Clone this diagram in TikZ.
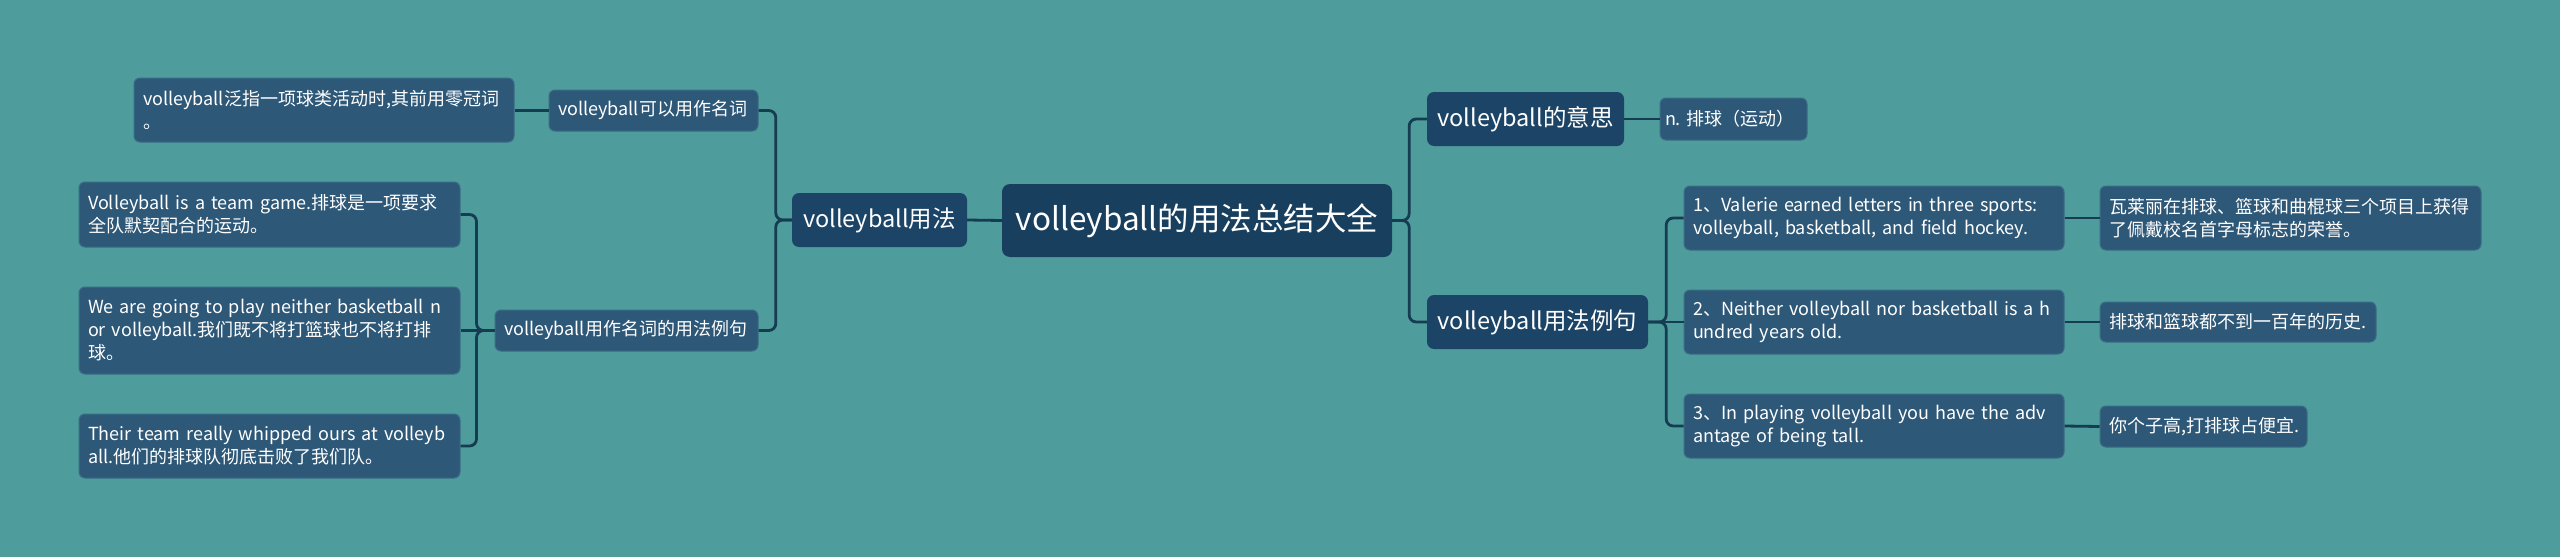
\documentclass[tikz,border=0pt]{standalone}
\usepackage{fontspec}
\setmainfont{Noto Sans CJK SC}
\usepackage{tikz}

\definecolor{bgteal}{RGB}{78,156,156}
\definecolor{rootblue}{RGB}{24,63,94}
\definecolor{mainblue}{RGB}{27,68,102}
\definecolor{leafblue}{RGB}{46,88,120}
\definecolor{leafedge}{RGB}{58,108,134}
\definecolor{linkblue}{RGB}{22,60,82}

\begin{document}
\begin{tikzpicture}[x=1pt, y=-1pt,
  rootbox/.style={fill=rootblue, text=white, rounded corners=8pt, inner sep=0pt, font=\fontsize{31.5}{36}\selectfont},
  mainbox/.style={fill=mainblue, text=white, rounded corners=7pt, inner sep=0pt, font=\fontsize{23.5}{27}\selectfont},
  leafbox/.style={fill=leafblue, draw=leafedge, line width=1pt, text=white, rounded corners=6pt, inner xsep=9pt, inner ysep=0pt, align=left, font=\fontsize{18}{23}\selectfont},
  link/.style={draw=linkblue, line width=2.8pt, rounded corners=7pt}]
\fill[bgteal] (0,0) rectangle (2560,557);
\useasboundingbox (0,0) rectangle (2560,557);

\node[rootbox, minimum width=390pt, minimum height=73pt] (root) at (1197,220.5) {volleyball的用法总结大全};

% left side
\node[mainbox, minimum width=175pt, minimum height=54pt] (usage) at (879.5,220) {volleyball用法};
\node[leafbox, text width=191pt, minimum height=41pt] (nounuse) at (653.5,110.5) {volleyball可以用作名词};
\node[leafbox, text width=245pt, minimum height=41pt] (nounex) at (626.5,330.5) {volleyball用作名词的用法例句};
\node[leafbox, text width=362pt, minimum height=64pt] (zero) at (324,110) {volleyball泛指一项球类活动时,其前用零冠词\\。};
\node[leafbox, text width=363pt, minimum height=65pt] (team) at (269.5,214.5) {Volleyball is a team game.排球是一项要求\\全队默契配合的运动。};
\node[leafbox, text width=363pt, minimum height=87pt] (going) at (269.5,330.5) {We are going to play neither basketball n\\or volleyball.我们既不将打篮球也不将打排\\球。};
\node[leafbox, text width=363pt, minimum height=64pt] (whip) at (269.5,446) {Their team really whipped ours at volleyb\\all.他们的排球队彻底击败了我们队。};

% right side
\node[mainbox, minimum width=197pt, minimum height=54pt] (meaning) at (1525.5,119) {volleyball的意思};
\node[mainbox, minimum width=221pt, minimum height=54pt] (examples) at (1537.5,322) {volleyball用法例句};
\node[leafbox, inner xsep=5pt, text width=137pt, minimum height=42pt] (defn) at (1733.5,119) {\mbox{n.~排球（运动）}};
\node[leafbox, text width=362pt, minimum height=64pt] (sent1) at (1874,218) {1、Valerie earned letters in three sports:\\volleyball, basketball, and field hockey.};
\node[leafbox, text width=362pt, minimum height=64pt] (sent2) at (1874,322) {2、Neither volleyball nor basketball is a h\\undred years old.};
\node[leafbox, text width=362pt, minimum height=64pt] (sent3) at (1874,426) {3、In playing volleyball you have the adv\\antage of being tall.};
\node[leafbox, text width=363pt, minimum height=64pt] (trans1) at (2290.5,218) {瓦莱丽在排球、篮球和曲棍球三个项目上获得\\了佩戴校名首字母标志的荣誉。};
\node[leafbox, text width=258pt, minimum height=40pt] (trans2) at (2238,322) {排球和篮球都不到一百年的历史.};
\node[leafbox, text width=189pt, minimum height=41pt] (trans3) at (2203.5,426.5) {你个子高,打排球占便宜.};

% connectors
\draw[link] (root.west) -- (usage.east);
\draw[link] (usage.west) -- ++(-16,0) |- (nounuse.east);
\draw[link] (usage.west) -- ++(-16,0) |- (nounex.east);
\draw[link] (nounuse.west) -- (nounuse.west -| zero.east);
\draw[link] (nounex.west) -- ++(-18,0) |- (team.east);
\draw[link] (nounex.west) -- (going.east);
\draw[link] (nounex.west) -- ++(-18,0) |- (whip.east);

\draw[link] (root.east) -- ++(17,0) |- (meaning.west);
\draw[link] (root.east) -- ++(17,0) |- (examples.west);
\draw[link] (meaning.east) -- (defn.west);
\draw[link] (examples.east) -- ++(18,0) |- (sent1.west);
\draw[link] (examples.east) -- (sent2.west);
\draw[link] (examples.east) -- ++(18,0) |- (sent3.west);
\draw[link] (sent1.east) -- (trans1.west);
\draw[link] (sent2.east) -- (trans2.west);
\draw[link] (sent3.east) -- (trans3.west);
\end{tikzpicture}
\end{document}
